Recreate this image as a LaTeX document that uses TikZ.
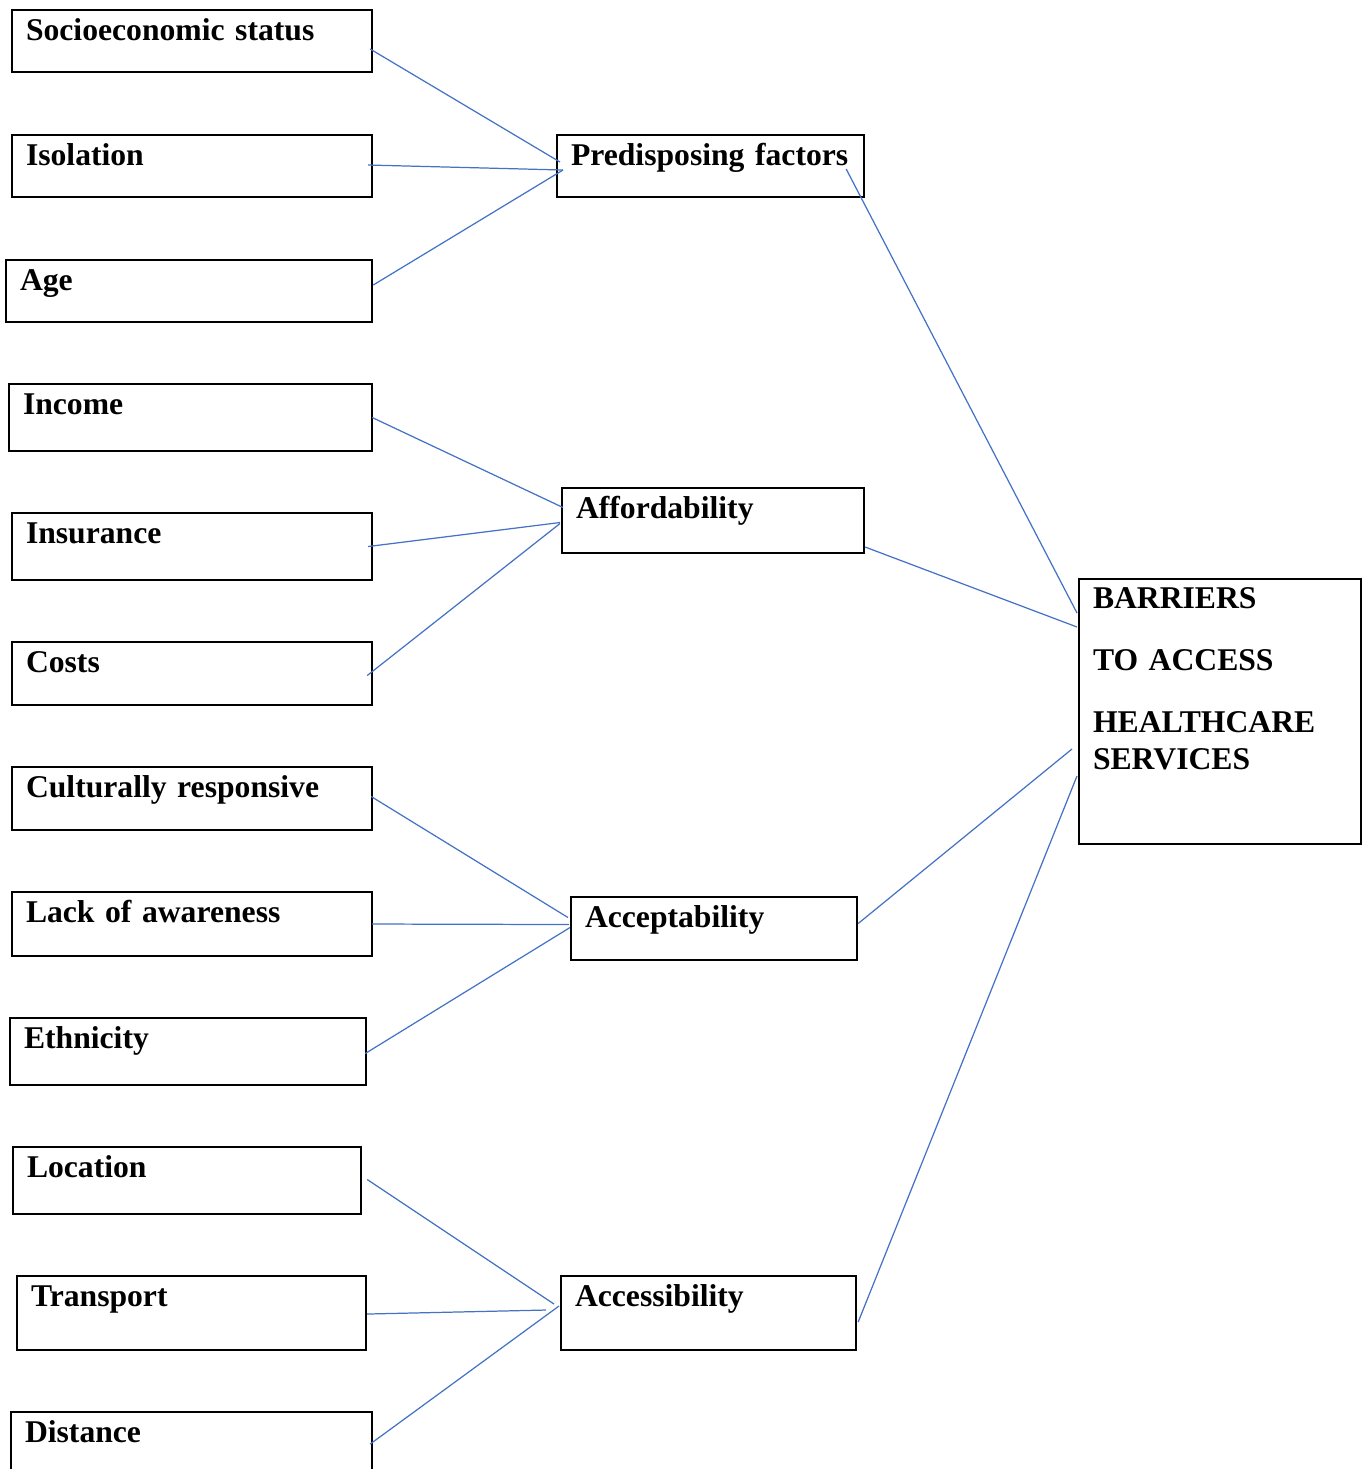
\documentclass[tikz,border=0pt]{standalone}
\usepackage{fontspec}
\setmainfont{Liberation Serif}
\usepackage{tikz}
\usetikzlibrary{positioning,calc}
\definecolor{linkBlue}{RGB}{68,114,196}
\tikzset{
  factor/.style 2 args={draw=black, line width=0.6pt, anchor=north west, align=left,
    outer sep=0pt, inner xsep=0.14cm, inner ysep=0pt, text width=#1,
    text height=0.30cm, text depth=#2,
    font=\bfseries\fontsize{9pt}{10.8pt}\selectfont},
  link/.style={draw=linkBlue, line width=0.35pt}
}

\begin{document}
\begin{tikzpicture}[x=0.01cm,y=-0.01cm]
\useasboundingbox (0,0) rectangle (1362,1469);
% Left column: the twelve factors
\node[factor={3.32cm}{0.32cm}] (soc) at (12,10) {Socioeconomic status};
\node[factor={3.32cm}{0.32cm}] (iso) at (12,135) {Isolation};
\node[factor={3.38cm}{0.32cm}] (age) at (6,260) {Age};
\node[factor={3.35cm}{0.37cm}] (inc) at (9,384) {Income};
\node[factor={3.32cm}{0.37cm}] (ins) at (12,513) {Insurance};
\node[factor={3.32cm}{0.33cm}] (cost) at (12,642) {Costs};
\node[factor={3.32cm}{0.33cm}] (cult) at (12,767) {Culturally responsive};
\node[factor={3.32cm}{0.34cm}] (lack) at (12,892) {Lack of awareness};
\node[factor={3.28cm}{0.37cm}] (eth) at (10,1018) {Ethnicity};
\node[factor={3.20cm}{0.37cm}] (loc) at (13,1147) {Location};
\node[factor={3.21cm}{0.44cm}] (tra) at (17,1276) {Transport};
\node[factor={3.33cm}{0.40cm}] (dis) at (11,1412) {Distance};
% Middle column: the four groups
\node[factor={2.79cm}{0.32cm}] (pre) at (557,135) {Predisposing factors};
\node[factor={2.74cm}{0.35cm}] (aff) at (562,488) {Affordability};
\node[factor={2.58cm}{0.33cm}] (acc) at (571,897) {Acceptability};
\node[factor={2.67cm}{0.44cm}] (accs) at (561,1276) {Accessibility};
% Right: the outcome
\node[factor={2.54cm}{2.36cm}, text height=0.29cm] (bar) at (1079,579)
  {BARRIERS\\[0.24cm] TO ACCESS\\[0.24cm] HEALTHCARE\\ SERVICES};
% Factors to groups
\draw[link] ([shift={(-2,8)}]soc.east) -- ([shift={(3,-4)}]pre.west);
\draw[link] ([shift={(-4,-1)}]iso.east) -- ([shift={(6,4)}]pre.west);
\draw[link] ([shift={(1,-6)}]age.east) -- ([shift={(6,4)}]pre.west);
\draw[link] (inc.east) -- ([shift={(1,-13)}]aff.west);
\draw[link] ([shift={(-4,0)}]ins.east) -- ([shift={(-2,2)}]aff.west);
\draw[link] ([shift={(-5,2)}]cost.east) -- ([shift={(-2,3)}]aff.west);
\draw[link] ([shift={(-1,-2)}]cult.east) -- ([shift={(-3,-11)}]acc.west);
\draw[link] (lack.east) -- ([shift={(-2,-4)}]acc.west);
\draw[link] ([shift={(-1,2)}]eth.east) -- ([shift={(-1,-1)}]acc.west);
\draw[link] ([shift={(6,-1)}]loc.east) -- ([shift={(-7,-9)}]accs.west);
\draw[link] ([shift={(1,1)}]tra.east) -- ([shift={(-15,-3)}]accs.west);
\draw[link] ([shift={(-2,32)}]dis.north east) -- ([shift={(-2,-7)}]accs.west);
% Groups to barriers
\draw[link] ([shift={(-18,34)}]pre.north east) -- ([shift={(-2,34)}]bar.north west);
\draw[link] ([shift={(1,-6)}]aff.south east) -- ([shift={(-2,48)}]bar.north west);
\draw[link] ([shift={(1,-5)}]acc.east) -- ([shift={(-7,170)}]bar.north west);
\draw[link] ([shift={(2,9)}]accs.east) -- ([shift={(-2,197)}]bar.north west);
\end{tikzpicture}
\end{document}
